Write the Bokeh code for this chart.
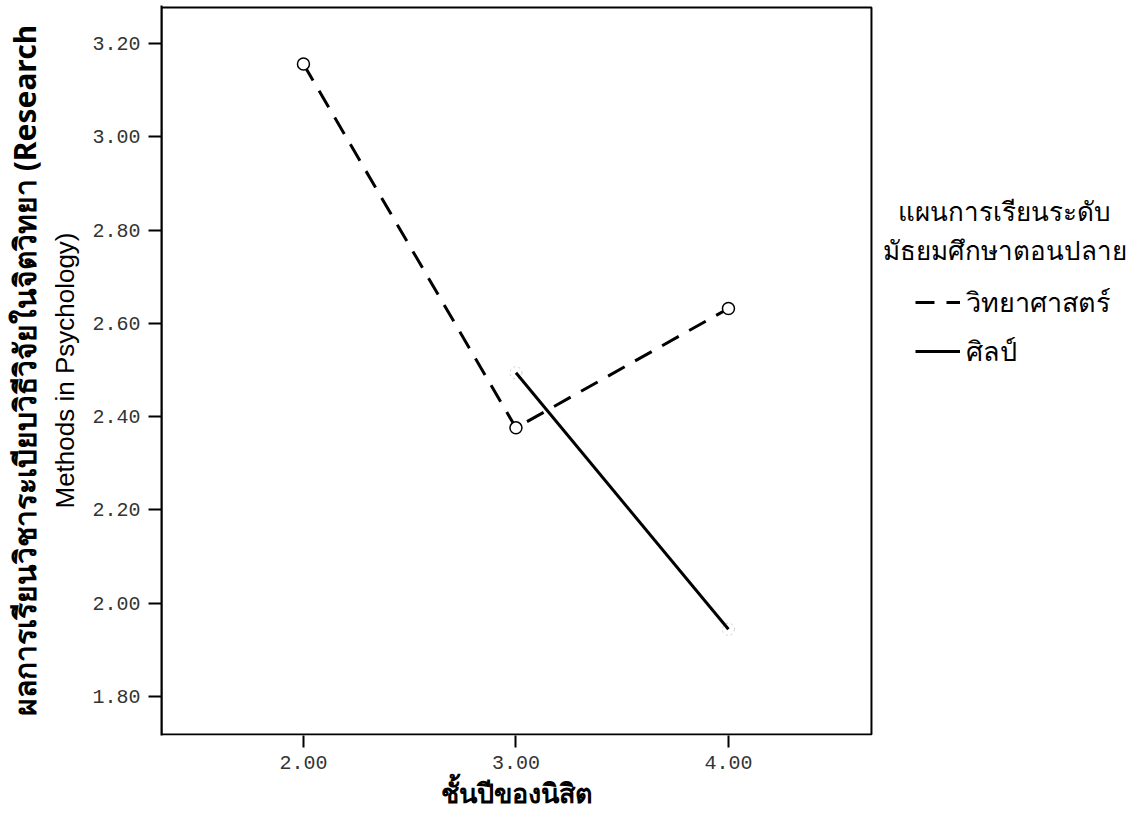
from bokeh.plotting import figure
from bokeh.models import (Range1d, FixedTicker, PrintfTickFormatter, LinearAxis, Legend,
                          LegendItem, Label, BoxAnnotation, Title)
from bokeh.embed import file_html
from bokeh.resources import INLINE

# ---- data ----
sci_x = [2.0, 3.0, 4.0]
sci_y = [3.156, 2.376, 2.632]
arts_x = [3.0, 4.0]
arts_y = [2.494, 1.944]
y_ticks = [1.8, 2.0, 2.2, 2.4, 2.6, 2.8, 3.0, 3.2]
x_ticks = [2.0, 3.0, 4.0]
series_names = ["วิทยาศาสตร์", "ศิลป์"]
legend_title_lines = ["แผนการเรียนระดับ", "มัธยมศึกษาตอนปลาย"]
x_label = "ชั้นปีของนิสิต"
y_label_1 = "ผลการเรียนวิชาระเบียบวิธีวิจัยในจิตวิทยา (Research"
y_label_2 = "Methods in Psychology)"

# plot box (data extent of the SPSS frame)
BX0, BX1 = 1.332, 4.673
BY0, BY1 = 1.7185, 3.277

# ---- layout (pixels) ----
W, H = 1130, 811
LEFT, TOP, BOTTOM = 161, 5, 76
FRAME_W = W - LEFT
FRAME_H = H - TOP - BOTTOM
PX_X = 212.5          # px per x unit
PX_Y = 466.4          # px per y unit
X0 = BX0
X1 = BX0 + FRAME_W / PX_X
Y0 = BY0 - 1.0 / PX_Y
Y1 = Y0 + FRAME_H / PX_Y

def dx(px):  # horizontal pixel (from figure left) -> data x
    return X0 + (px - LEFT) / PX_X

def dy(py):  # vertical pixel (from figure top) -> data y
    return Y1 - (py - TOP) / PX_Y

p = figure(width=W, height=H, output_backend="svg", toolbar_location=None,
           x_range=Range1d(X0, X1), y_range=Range1d(Y0, Y1),
           min_border_left=LEFT, min_border_right=0, min_border_top=TOP,
           min_border_bottom=BOTTOM)
p.grid.visible = False
p.outline_line_color = None
p.background_fill_color = "white"
p.border_fill_color = "white"

p.add_layout(BoxAnnotation(left=BX0, right=BX1, bottom=BY0, top=BY1,
                           fill_alpha=0, line_color="black", line_alpha=1.0,
                           line_width=2))

mono = "Liberation Mono"
# x axis
xa = p.xaxis[0]
xa.ticker = FixedTicker(ticks=x_ticks)
xa.formatter = PrintfTickFormatter(format="%.2f")
xa.axis_line_color = None
xa.major_tick_out = 12
xa.major_tick_in = 0
xa.minor_tick_line_color = None
xa.major_tick_line_width = 2
xa.major_label_text_font = mono
xa.major_label_text_font_size = "20px"
xa.major_label_text_color = "#333333"
xa.major_label_standoff = 8

p.add_layout(Title(text=x_label, align="left", offset=279, standoff=0,
                   text_font="Noto Sans", text_font_style="bold",
                   text_font_size="27px", text_color="black"), "below")

# y axis (inner)
ya = p.yaxis[0]
ya.ticker = FixedTicker(ticks=y_ticks)
ya.formatter = PrintfTickFormatter(format="%.2f")
ya.major_tick_out = 13
ya.major_tick_in = 0
ya.minor_tick_line_color = None
ya.major_tick_line_width = 2
ya.axis_line_width = 2
ya.major_label_text_font = mono
ya.major_label_text_font_size = "20px"
ya.major_label_text_color = "#333333"
ya.major_label_standoff = 8
ya.axis_label = y_label_2
ya.axis_label_text_font = "Liberation Sans"
ya.axis_label_text_font_style = "normal"
ya.axis_label_text_font_size = "26px"
ya.axis_label_text_color = "black"
ya.axis_label_standoff = 9

# y axis (outer, label only)
ya2 = LinearAxis(ticker=FixedTicker(ticks=[]), axis_line_color=None,
                 major_tick_line_color=None, minor_tick_line_color=None,
                 axis_label=y_label_1, axis_label_text_font="Noto Sans",
                 axis_label_text_font_style="bold", axis_label_text_font_size="30px",
                 axis_label_text_color="black", axis_label_standoff=3)
p.add_layout(ya2, "left")

SCI_STYLE = dict(line_color="black", line_width=3, line_dash="19 12")
ARTS_STYLE = dict(line_color="black", line_width=3)

p.scatter(arts_x, arts_y, marker="circle", size=12, fill_color=None,
          line_color="#cccccc", line_dash="2 3", line_width=1)
r_arts = p.line(arts_x, arts_y, **ARTS_STYLE)
r_sci = p.line(sci_x, sci_y, **SCI_STYLE)
p.scatter(sci_x, sci_y, marker="circle", size=12, fill_color="white",
          line_color="black", line_width=1.5)

# ---- legend (inside the wide frame, right of the box) ----
item_h = 50
for name, rend, cy in ((series_names[0], r_sci, 302), (series_names[1], r_arts, 351)):
    lgd = Legend(items=[LegendItem(label=name, renderers=[rend])],
                 location=(915 - LEFT, (TOP + FRAME_H) - cy - item_h // 2),
                 glyph_width=45, glyph_height=item_h, label_height=item_h,
                 label_standoff=6, padding=0, margin=0, spacing=0,
                 border_line_color=None, background_fill_alpha=0,
                 label_text_font="Noto Sans", label_text_font_size="27px",
                 label_text_color="black", label_text_baseline="middle")
    p.add_layout(lgd, "center")

for t, cy in zip(legend_title_lines, (210, 249)):
    p.add_layout(Label(x=dx(1004), y=dy(cy), text=t,
                       text_align="center", text_baseline="middle",
                       text_font="Noto Sans", text_font_size="26px", text_color="black"))

open("out.html", "w").write(file_html(p, INLINE))
